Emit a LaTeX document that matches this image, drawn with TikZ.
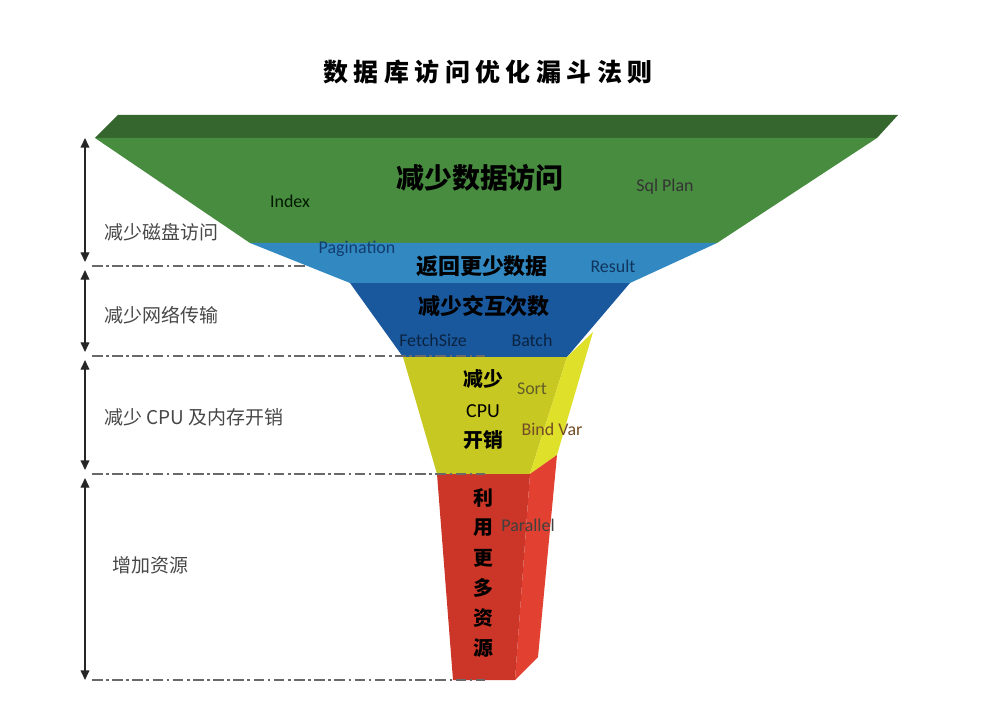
\documentclass[tikz,border=0pt]{standalone}
\usepackage{fontspec}
\usepackage{xcolor}
\usepackage{tikz}
\usetikzlibrary{arrows.meta}
\setmainfont{Carlito}
\newfontfamily\cjk{Noto Sans CJK SC}
\newfontfamily\titlecjk[LetterSpace=22]{Noto Sans CJK SC}
\definecolor{rimgreen}{RGB}{52, 102, 46}
\definecolor{grass}{RGB}{72, 140, 64}
\definecolor{sky}{RGB}{50, 136, 192}
\definecolor{ocean}{RGB}{26, 88, 158}
\definecolor{lemon}{RGB}{200, 200, 34}
\definecolor{lemonside}{RGB}{222, 224, 42}
\definecolor{brick}{RGB}{204, 54, 40}
\definecolor{brickside}{RGB}{226, 64, 48}
\definecolor{guide}{RGB}{105, 105, 105}

\begin{document}
\begin{tikzpicture}[x=0.02cm, y=-0.02cm,
    level/.style={guide, line width=1.1pt, dash pattern=on 6pt off 2pt on 1.5pt off 2pt},
    span/.style={{Triangle[length=5.5pt,width=5pt]}-{Triangle[length=5.5pt,width=5pt]}, line width=0.8pt, black!85, shorten <=2.3pt, shorten >=2.3pt},
    side/.style={anchor=west, text=black!72, font=\cjk\fontsize{10.8}{12}\selectfont},
    hint/.style={font=\fontsize{10.2}{12}\selectfont},
    big/.style={font=\cjk\bfseries\fontsize{12.5}{14}\selectfont}]
    \useasboundingbox (0,0) rectangle (987,726);

    % Title
    \node (title) at (488,72) {\titlecjk\bfseries\fontsize{14.2}{16}\selectfont 数据库访问优化漏斗法则};

    % Funnel layers
    \fill[rimgreen] (118,115) -- (898,115) -- (877,138) -- (95,138) -- cycle;
    \fill[grass] (95,138) -- (877,138) -- (717,243) -- (250,243) -- cycle;
    \fill[sky] (250,243) -- (717,243) -- (630,283) -- (350,283) -- cycle;
    \fill[ocean] (350,283) -- (630,283) -- (567,357) -- (403,357) -- cycle;
    \fill[lemon] (403,357) -- (567,357) -- (530,474) -- (437,474) -- cycle;
    \fill[lemonside] (567,357) -- (593,332) -- (557,455) -- (530,474) -- cycle;
    \fill[brickside] (530,474) -- (557,455) -- (538,657) -- (515,680) -- cycle;
    \fill[brick] (437,474) -- (530,474) -- (515,680) -- (453,680) -- cycle;

    % Layer texts
    \node[font=\cjk\bfseries\fontsize{15.9}{18}\selectfont] (data) at (480,178) {减少数据访问};
    \node[big] (rows) at (482,266) {返回更少数据};
    \node[big] (trips) at (484,306) {减少交互次数};
    \node[font=\cjk\bfseries\fontsize{11.3}{13}\selectfont] (cpua) at (483,379) {减少};
    \node[font=\fontsize{11.3}{13}\selectfont] (cpub) at (483,411) {CPU};
    \node[font=\cjk\bfseries\fontsize{11.3}{13}\selectfont] (cpuc) at (483,440) {开销};
    \foreach \ch [count=\i] in {利,用,更,多,资,源} {
        \node[font=\cjk\bfseries\fontsize{11.3}{13}\selectfont] (res\i) at (483,468+30*\i) {\ch};
    }

    % Hints
    \node[hint, text=black!75!green!40!black] (index) at (290,201) {Index};
    \node[hint, text=black!80] (sqlplan) at (665,187) {Sql Plan};
    \node[hint, text=ocean!70!black] (pagination) at (357,249) {Pagination};
    \node[hint, text=ocean!60!black] (result) at (613,266) {Result};
    \node[hint, text=ocean!40!black] (fetch) at (433,340) {FetchSize};
    \node[hint, text=ocean!40!black] (batch) at (532,340) {Batch};
    \node[hint, text=olive!60!black] (sort) at (532,389) {Sort};
    \node[hint, text=brown!60!black] (bindvar) at (552,429) {Bind Var};
    \node[hint, text=black!75] (parallel) at (528,525) {Parallel};

    % Levels
    \draw[level] (92,266) -- (305,266);
    \foreach \y in {356,474,680} {
        \draw[level] (92,\y) -- (485,\y);
    }
    \foreach \y [count=\i] in {134,266,356,474,684} {
        \coordinate (lv\i) at (85,\y);
    }
    \foreach \i/\j in {1/2,2/3,3/4,4/5} {
        \draw[span] (lv\i) -- (lv\j);
    }

    % Side labels
    \node[side] (disk) at (98,232) {减少磁盘访问};
    \node[side] (net) at (98,315) {减少网络传输};
    \node[side] (mem) at (98,417) {减少 CPU 及内存开销};
    \node[side] (more) at (106,565) {增加资源};
\end{tikzpicture}
\end{document}
